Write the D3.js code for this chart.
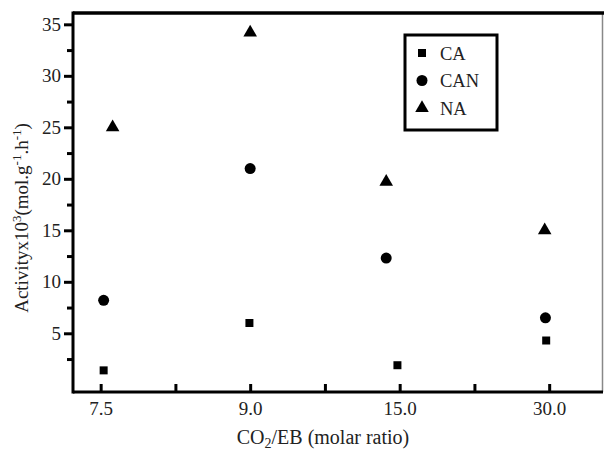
<!DOCTYPE html>
<html>
<head>
<meta charset="utf-8">
<script src="https://cdn.jsdelivr.net/npm/d3@7"></script>
<style>
  body { margin: 0; background: #fff; }
  text { font-family: "Liberation Serif", "Times New Roman", serif; fill: #222; }
</style>
</head>
<body>
<svg id="chart"></svg>
<script>
// x categories (CO2/EB molar ratio), drawn on an index scale
const xLabels = ["7.5", "9.0", "15.0", "30.0"];
const xLabelIdx = [0, 2, 4, 6];

// marker positions along the index axis
const caX = [0.04, 1.99, 3.97, 5.96];
const caY = [1.4, 6.0, 1.9, 4.3];
const canX = [0.04, 2.0, 3.82, 5.95];
const canY = [8.2, 21.0, 12.3, 6.5];
const naX = [0.16, 2.0, 3.82, 5.94];
const naY = [25.0, 34.2, 19.7, 15.0];

const yTicks = [5, 10, 15, 20, 25, 30, 35];
const yMinorTicks = [2.5, 7.5, 12.5, 17.5, 22.5, 27.5, 32.5];

const series = [
  {name: "CA", xs: caX, ys: caY, shape: d3.symbolSquare, size: 64},
  {name: "CAN", xs: canX, ys: canY, shape: d3.symbolCircle, size: 95},
  {name: "NA", xs: naX, ys: naY, shape: d3.symbolTriangle, size: 80},
];

const W = 604, H = 450;
const plot = {left: 73, right: 603, top: 13, bottom: 392};

const svg = d3.select("#chart").attr("width", W).attr("height", H);

const x = d3.scaleLinear().domain([-0.37, 6.72]).range([plot.left, plot.right]);
const y = d3.scaleLinear().domain([-0.7, 36.1]).range([plot.bottom, plot.top]);

// y axis: major ticks with labels, minor ticks between
const yAxisG = svg.append("g").attr("transform", `translate(${plot.left},0)`)
  .call(d3.axisLeft(y).tickValues(yTicks).tickSize(9).tickPadding(3).tickFormat(d3.format("d")));
yAxisG.select(".domain").remove();
yAxisG.selectAll(".tick line").attr("stroke", "#000").attr("stroke-width", 3);
yAxisG.selectAll(".tick text").style("font-size", "19px").attr("fill", "#222");

const yMinorG = svg.append("g").attr("transform", `translate(${plot.left},0)`)
  .call(d3.axisLeft(y).tickValues(yMinorTicks).tickSize(6).tickFormat(""));
yMinorG.select(".domain").remove();
yMinorG.selectAll(".tick line").attr("stroke", "#000").attr("stroke-width", 3);

// x axis: inward ticks at every index
const xAxisG = svg.append("g").attr("transform", `translate(0,${plot.bottom})`)
  .call(d3.axisBottom(x).tickValues(d3.range(0, 7)).tickSize(-8).tickPadding(10)
    .tickFormat(d => { const i = xLabelIdx.indexOf(d); return i >= 0 ? xLabels[i] : ""; }));
xAxisG.select(".domain").remove();
xAxisG.selectAll(".tick line").attr("stroke", "#000").attr("stroke-width", 3);
xAxisG.selectAll(".tick text").style("font-size", "19px").attr("fill", "#222");

// frame
svg.append("line").attr("x1", plot.right - 0.5).attr("x2", plot.right - 0.5).attr("y1", plot.top).attr("y2", plot.bottom)
  .attr("stroke", "#888").attr("stroke-width", 1.5);
svg.append("line").attr("x1", plot.left).attr("x2", W).attr("y1", plot.top).attr("y2", plot.top)
  .attr("stroke", "#000").attr("stroke-width", 3.5);
svg.append("line").attr("x1", plot.left).attr("x2", plot.left).attr("y1", plot.top - 1.5).attr("y2", plot.bottom + 1.5)
  .attr("stroke", "#000").attr("stroke-width", 3);
svg.append("line").attr("x1", plot.left).attr("x2", plot.right).attr("y1", plot.bottom).attr("y2", plot.bottom)
  .attr("stroke", "#000").attr("stroke-width", 3);

// markers
series.forEach(s => {
  svg.append("g").selectAll("path")
    .data(s.xs.map((xv, i) => ({x: xv, y: s.ys[i]})))
    .join("path")
    .attr("d", d3.symbol().type(s.shape).size(s.size))
    .attr("transform", d => `translate(${x(d.x)},${y(d.y)})`)
    .attr("fill", "#000");
});

// legend
const legend = svg.append("g").attr("transform", "translate(405,35)");
legend.append("rect").attr("x", 0).attr("y", 0).attr("width", 92).attr("height", 95)
  .attr("fill", "#fff").attr("stroke", "#000").attr("stroke-width", 3);
series.forEach((s, i) => {
  const cy = 18 + i * 27.5;
  legend.append("path").attr("d", d3.symbol().type(s.shape).size(s.size))
    .attr("transform", `translate(17,${cy})`).attr("fill", "#000");
  legend.append("text").attr("x", 35).attr("y", cy + 6.5).style("font-size", "18.5px").text(s.name);
});

// axis titles
const xTitle = svg.append("text").attr("x", 323).attr("y", 444).attr("text-anchor", "middle")
  .style("font-size", "20px");
xTitle.append("tspan").text("CO");
xTitle.append("tspan").attr("dy", 4).style("font-size", "14px").text("2");
xTitle.append("tspan").attr("dy", -4).text("/EB (molar ratio)");

const yTitle = svg.append("text").attr("transform", "translate(28,218) rotate(-90)")
  .attr("text-anchor", "middle").style("font-size", "19px");
yTitle.append("tspan").text("Activityx10");
yTitle.append("tspan").attr("dy", -7).style("font-size", "13px").text("3");
yTitle.append("tspan").attr("dy", 7).text("(mol.g");
yTitle.append("tspan").attr("dy", -7).style("font-size", "13px").text("-1");
yTitle.append("tspan").attr("dy", 7).text(".h");
yTitle.append("tspan").attr("dy", -7).style("font-size", "13px").text("-1");
yTitle.append("tspan").attr("dy", 7).text(")");
</script>
</body>
</html>
